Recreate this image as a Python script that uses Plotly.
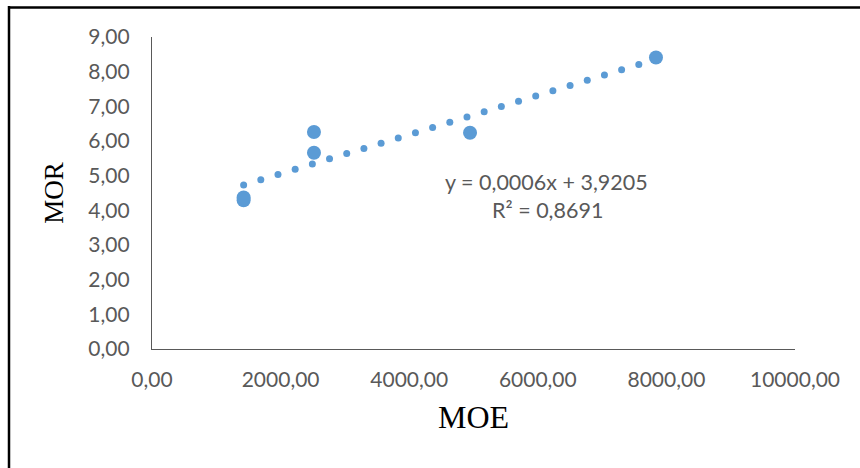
import numpy as np
import plotly.graph_objects as go

# Data
moe = [1425, 1425, 2519, 2519, 4946, 7838]
mor = [4.29, 4.37, 6.26, 5.66, 6.24, 8.41]

x_ticks = [0, 2000, 4000, 6000, 8000, 10000]
x_tick_labels = ["0,00", "2000,00", "4000,00", "6000,00", "8000,00", "10000,00"]
y_ticks = [0, 1, 2, 3, 4, 5, 6, 7, 8, 9]
y_tick_labels = ["0,00", "1,00", "2,00", "3,00", "4,00", "5,00", "6,00", "7,00", "8,00", "9,00"]

equation_text = "y = 0,0006x + 3,9205"
r2_text = "R² = 0,8691"

# Linear trendline (dotted, drawn as round dots)
slope, intercept = np.polyfit(moe, mor, 1)
trend_x = np.linspace(min(moe), max(moe), 25)
trend_y = slope * trend_x + intercept

BLUE = "#5B9BD5"
GRAY = "#595959"

fig = go.Figure()
fig.add_trace(go.Scatter(
    x=trend_x, y=trend_y, mode="markers",
    marker=dict(size=7, color=BLUE, line=dict(width=0)),
    hoverinfo="skip", showlegend=False,
))
fig.add_trace(go.Scatter(
    x=moe, y=mor, mode="markers",
    marker=dict(size=14, color=BLUE, line=dict(width=0)),
    showlegend=False,
))

L, R, T, B = 152, 65, 37, 119
W, H = 860, 468
pw, ph = W - L - R, H - T - B

def px_to_paper_x(px):
    return (px - L) / pw

def px_to_paper_y(py):
    return (H - B - py) / ph

fig.update_layout(
    width=W, height=H,
    margin=dict(l=L, r=R, t=T, b=B, pad=0),
    paper_bgcolor="white", plot_bgcolor="white",
    font=dict(family="Lato", color=GRAY, size=21),
    xaxis=dict(
        range=[0, 10000], tickvals=x_ticks, ticktext=x_tick_labels,
        showgrid=False, zeroline=False, showline=True,
        linecolor=GRAY, linewidth=1.3, ticks="",
        ticklabelstandoff=12,
        tickfont=dict(family="Lato", size=21, color=GRAY),
        title=dict(text="MOE", font=dict(family="Liberation Serif", size=32, color="black"),
                   standoff=15),
    ),
    yaxis=dict(
        range=[0, 9], tickvals=y_ticks, ticktext=y_tick_labels,
        showgrid=False, zeroline=False, showline=True,
        linecolor=GRAY, linewidth=1.3, ticks="",
        ticklabelstandoff=17,
        tickfont=dict(family="Lato", size=21, color=GRAY),
        title=dict(text="MOR", font=dict(family="Liberation Serif", size=27, color="black"),
                   standoff=16),
    ),
    annotations=[
        dict(xref="paper", yref="paper", x=px_to_paper_x(546), y=px_to_paper_y(181.5),
             text=equation_text, showarrow=False, xanchor="center", yanchor="middle",
             font=dict(family="Lato", size=21.5, color=GRAY)),
        dict(xref="paper", yref="paper", x=px_to_paper_x(547), y=px_to_paper_y(210),
             text=r2_text, showarrow=False, xanchor="center", yanchor="middle",
             font=dict(family="Lato", size=21.5, color=GRAY)),
    ],
    shapes=[
        dict(type="line", xref="paper", yref="paper", layer="above",
             x0=px_to_paper_x(9), x1=px_to_paper_x(9),
             y0=px_to_paper_y(6), y1=px_to_paper_y(480),
             line=dict(color="black", width=2.5)),
        dict(type="line", xref="paper", yref="paper", layer="above",
             x0=px_to_paper_x(8), x1=px_to_paper_x(880),
             y0=px_to_paper_y(7.5), y1=px_to_paper_y(7.5),
             line=dict(color="black", width=2.5)),
    ],
)

fig.write_html("out.html", config={"displayModeBar": False},
               post_script="document.body.style.margin='0';")
